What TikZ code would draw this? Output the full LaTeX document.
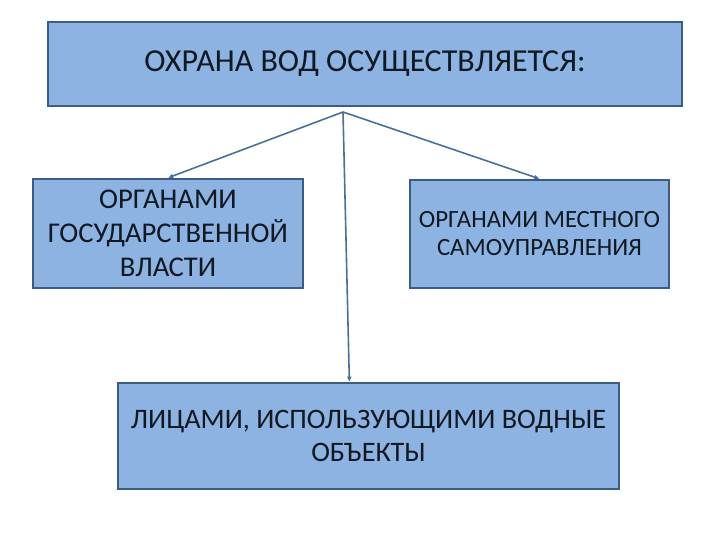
\documentclass[tikz,border=0pt]{standalone}
\usepackage{fontspec}
\setmainfont{Carlito}
\usetikzlibrary{positioning,arrows.meta,calc}
\definecolor{sky}{HTML}{8DB3E2}
\definecolor{edge}{HTML}{3B5C84}
\definecolor{wire}{HTML}{4A6F99}
\definecolor{ink}{HTML}{101820}
\tikzset{
  box/.style ={draw=edge, line width=1.2pt, fill=sky, align=center, inner sep=4pt, text=ink},
  ln/.style  ={draw=wire, line width=.8pt, -{Latex[length=.9mm,width=.9mm]}},
}
\begin{document}
\begin{tikzpicture}[x=0.5pt,y=-0.5pt]
    \useasboundingbox (0,0) rectangle (720,540);
    \node[box,minimum width=317pt,minimum height=42pt,font=\fontsize{16}{19}\selectfont] (top) at (365,64)
      {ОХРАНА ВОД ОСУЩЕСТВЛЯЕТСЯ:};
    \node[box,minimum width=135pt,minimum height=54.5pt,font=\fontsize{14.3}{17}\selectfont] (gov) at (168,233.5)
      {ОРГАНАМИ\\ ГОСУДАРСТВЕННОЙ\\ ВЛАСТИ};
    \node[box,minimum width=129.5pt,minimum height=54pt,font=\fontsize{12.4}{14}\selectfont] (loc) at (539.5,234)
      {ОРГАНАМИ МЕСТНОГО\\ САМОУПРАВЛЕНИЯ};
    \node[box,minimum width=250.5pt,minimum height=53pt,font=\fontsize{14.1}{16.5}\selectfont] (usr) at (368.5,436)
      {ЛИЦАМИ, ИСПОЛЬЗУЮЩИМИ ВОДНЫЕ\\ ОБЪЕКТЫ};

    \coordinate (hub) at (343,112);
    \draw[ln] (hub) -- (gov.north);
    \draw[ln] (hub) -- (loc.north);
    \draw[ln] (hub) -- ($(usr.north west)!.462!(usr.north east)$);
  \end{tikzpicture}
\end{document}
